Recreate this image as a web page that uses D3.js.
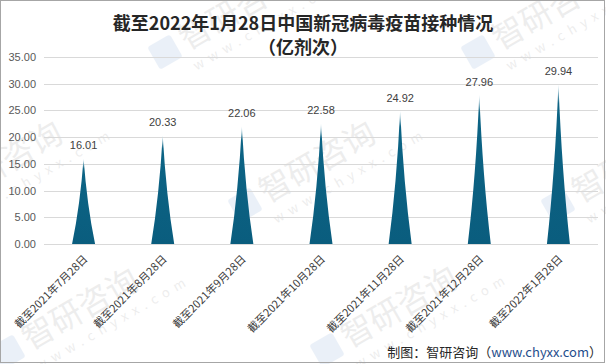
<!DOCTYPE html>
<html>
<head>
<meta charset="utf-8">
<script src="https://cdn.jsdelivr.net/npm/d3@7"></script>
<style>
    body { margin: 0; background: #fff; }
    text { font-family: "Noto Sans CJK SC", "Noto Sans", sans-serif; }
</style>
</head>
<body>
<div id="chart"></div>
<script>
// data
let categories = ["截至2021年7月28日", "截至2021年8月28日", "截至2021年9月28日", "截至2021年10月28日",
    "截至2021年11月28日", "截至2021年12月28日", "截至2022年1月28日"]
let doses = [16.01, 20.33, 22.06, 22.58, 24.92, 27.96, 29.94]
let yTicks = [0, 5, 10, 15, 20, 25, 30, 35]
let titleLines = ["截至2022年1月28日中国新冠病毒疫苗接种情况", "（亿剂次）"]

let W = 606, H = 364
let margin = { top: 57, right: 8, bottom: 120, left: 44 }

let svg = d3.select("#chart")
    .append("svg")
    .attr("width", W)
    .attr("height", H)

// gradient for the spikes, tip fades out
let grad = svg.append("defs").append("linearGradient")
    .attr("id", "spike")
    .attr("x1", 0).attr("y1", 0).attr("x2", 0).attr("y2", 1)
grad.append("stop").attr("offset", "0%").attr("stop-color", "#dfeef4")
grad.append("stop").attr("offset", "12%").attr("stop-color", "#0d6485")
grad.append("stop").attr("offset", "100%").attr("stop-color", "#0a5d7e")

let x = d3.scaleBand()
    .domain(categories)
    .range([margin.left, W - margin.right])

let y = d3.scaleLinear()
    .domain([0, 35])
    .range([H - margin.bottom, margin.top])

// watermarks (drawn first, very faint)
let marks = [[165, 52], [478, 52], [-68, 205], [245, 205], [558, 205], [8, 352], [327, 350]]
let wm = svg.append("g")
    .selectAll("g")
    .data(marks)
    .enter()
    .append("g")
    .attr("transform", d => "translate(" + d[0] + "," + d[1] + ") rotate(-30)")
    .attr("opacity", 0.1)
wm.append("rect")
    .attr("x", -13).attr("y", -13).attr("width", 26).attr("height", 26).attr("rx", 3)
    .attr("fill", "#3f78c0")
wm.append("text")
    .attr("x", 20).attr("y", 10)
    .attr("fill", "#555")
    .style("font-size", "32px")
    .text("智研咨询")
wm.append("text")
    .attr("x", 18).attr("y", 32)
    .attr("fill", "#555")
    .style("font-size", "13px")
    .style("letter-spacing", "6px")
    .text("www.chyxx.com")

// gridlines
svg.append("g")
    .selectAll("line")
    .data(yTicks)
    .enter()
    .append("line")
    .attr("x1", margin.left)
    .attr("x2", W - margin.right)
    .attr("y1", d => Math.round(y(d)) + 0.5)
    .attr("y2", d => Math.round(y(d)) + 0.5)
    .attr("stroke", "#d9d9d9")
    .attr("stroke-width", 1)

// y axis labels
let yAxis = svg.append("g")
    .attr("transform", "translate(" + (margin.left - 8) + ",0)")
    .call(d3.axisLeft(y).tickValues(yTicks).tickFormat(d3.format(".2f")).tickSize(0).tickPadding(0))
yAxis.select(".domain").remove()
yAxis.selectAll("text")
    .attr("fill", "#595959")
    .style("font-size", "11px")
    .style("font-family", "'Liberation Sans', Arial, sans-serif")

// x axis labels, rotated
let xAxis = svg.append("g")
    .attr("transform", "translate(0," + y(0) + ")")
    .call(d3.axisBottom(x).tickSize(0).tickPadding(0))
xAxis.select(".domain").remove()
xAxis.selectAll("text")
    .attr("y", 0)
    .attr("dy", "0.35em")
    .attr("transform", "translate(2,13) rotate(-45)")
    .style("text-anchor", "end")
    .attr("fill", "#404040")
    .style("font-size", "11px")

// spike shape
let spike = (cx, top, base) => {
    let w = 23, h = base - top
    let p = d3.path()
    p.moveTo(cx - w / 2, base)
    p.quadraticCurveTo(cx - 3.5, base - h * 0.45, cx, top)
    p.quadraticCurveTo(cx + 3.5, base - h * 0.45, cx + w / 2, base)
    p.closePath()
    return p.toString()
}

svg.append("g")
    .selectAll("path")
    .data(doses)
    .enter()
    .append("path")
    .attr("d", (d, i) => spike(x(categories[i]) + x.bandwidth() / 2, y(d), y(0)))
    .attr("fill", "url(#spike)")

// value labels
svg.append("g")
    .selectAll("text")
    .data(doses)
    .enter()
    .append("text")
    .attr("x", (d, i) => x(categories[i]) + x.bandwidth() / 2)
    .attr("y", d => y(d) - 9)
    .attr("text-anchor", "middle")
    .attr("fill", "#404040")
    .style("font-size", "11px")
    .style("font-family", "'Liberation Sans', Arial, sans-serif")
    .text(d => d.toFixed(2))

// title
svg.append("g")
    .selectAll("text")
    .data(titleLines)
    .enter()
    .append("text")
    .attr("x", W / 2)
    .attr("y", (d, i) => 30 + i * 24)
    .attr("text-anchor", "middle")
    .attr("fill", "#262626")
    .style("font-size", "18px")
    .style("font-weight", "bold")
    .text(d => d)

// source
let src = svg.append("text")
    .attr("x", 602)
    .attr("y", 357)
    .attr("text-anchor", "end")
    .style("font-size", "13px")
    .attr("fill", "#262626")
src.append("tspan").text("制图：智研咨询（")
src.append("tspan").attr("fill", "#1f4e8c").text("www.chyxx.com")
src.append("tspan").text("）")

// outer border
svg.append("rect")
    .attr("x", 0.5).attr("y", 0.5)
    .attr("width", W - 2).attr("height", H - 2)
    .attr("fill", "none")
    .attr("stroke", "#a6a6a6")
</script>
</body>
</html>
